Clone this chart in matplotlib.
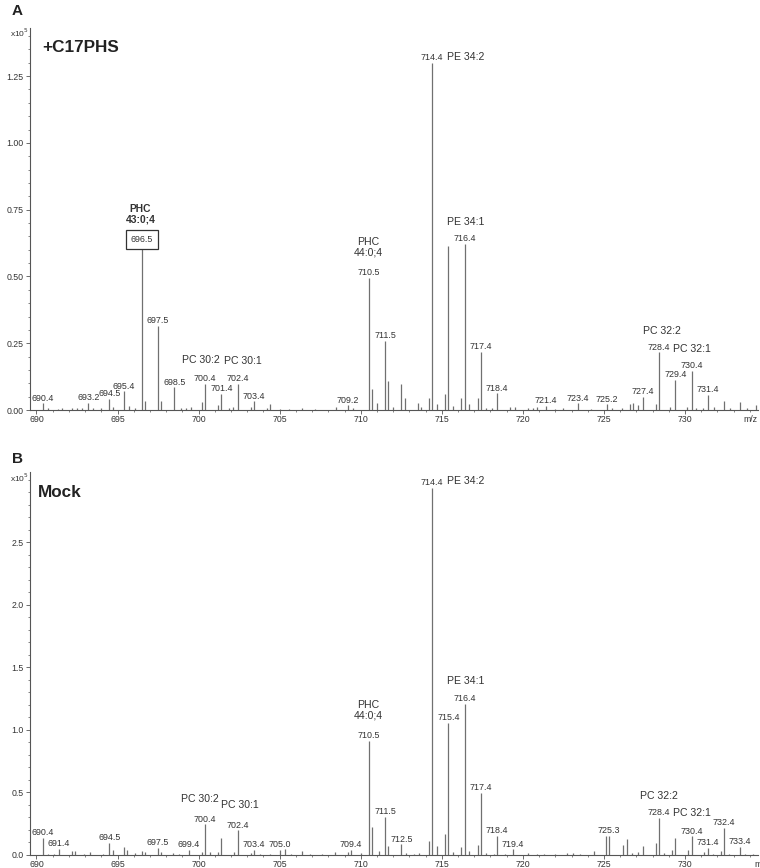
import numpy as np
import matplotlib.pyplot as plt
from matplotlib.ticker import MultipleLocator, FixedLocator, FormatStrFormatter

plt.rcParams['font.family'] = ['Liberation Sans', 'DejaVu Sans']

# ---- panel A: +C17PHS (intensity x10^5) ----
a_lab_mz = [690.4, 693.2, 694.5, 695.4, 696.5, 697.5, 698.5, 700.4, 701.4, 702.4,
            703.4, 709.2, 710.5, 711.5, 714.4, 716.4, 717.4, 718.4, 721.4, 723.4,
            725.2, 727.4, 728.4, 729.4, 730.4, 731.4]
a_lab_int = [0.025, 0.028, 0.041, 0.070, 0.607, 0.315, 0.085, 0.098, 0.060, 0.098,
             0.032, 0.017, 0.494, 0.258, 1.300, 0.621, 0.218, 0.062, 0.015, 0.025,
             0.021, 0.049, 0.216, 0.112, 0.146, 0.057]
a_small_mz = [690.7, 691.3, 691.6, 692.2, 692.5, 692.8, 693.5, 694.0, 694.7, 695.7,
              696.1, 696.7, 697.7, 698.9, 699.2, 699.5, 700.2, 701.2, 701.9, 702.1,
              703.2, 704.2, 704.4, 705.0, 705.6, 706.4, 707.2, 708.5, 709.5, 710.7,
              711.0, 711.7, 712.0, 712.5, 712.7, 713.5, 713.7, 714.2, 714.7, 715.2,
              715.4, 715.7, 716.2, 716.7, 717.2, 717.7, 718.1, 719.2, 719.5, 720.3,
              720.6, 720.9, 722.0, 722.5, 724.2, 725.5, 726.1, 726.6, 726.8, 727.1,
              728.2, 729.1, 730.1, 730.7, 731.1, 731.8, 732.4, 732.8, 733.4, 733.8,
              734.4]
a_small_int = [0.006, 0.005, 0.006, 0.008, 0.007, 0.008, 0.006, 0.007, 0.012, 0.015,
               0.008, 0.035, 0.033, 0.008, 0.006, 0.013, 0.031, 0.020, 0.008, 0.011,
               0.013, 0.008, 0.022, 0.005, 0.004, 0.008, 0.004, 0.013, 0.006, 0.078,
               0.028, 0.108, 0.012, 0.098, 0.046, 0.027, 0.010, 0.045, 0.022, 0.060,
               0.614, 0.015, 0.045, 0.022, 0.045, 0.008, 0.006, 0.010, 0.012, 0.006,
               0.008, 0.010, 0.005, 0.006, 0.005, 0.008, 0.006, 0.022, 0.025, 0.017,
               0.022, 0.012, 0.010, 0.008, 0.007, 0.010, 0.035, 0.008, 0.030, 0.006,
               0.019]
a_names = ["PHC\n43:0;4", "PC 30:2", "PC 30:1", "PHC\n44:0;4", "PE 34:2", "PE 34:1",
           "PC 32:2", "PC 32:1"]
a_name_mz = [696.5, 700.4, 702.4, 710.5, 714.4, 716.4, 728.4, 730.4]
a_yticks = [0.0, 0.25, 0.50, 0.75, 1.00, 1.25]

# ---- panel B: Mock ----
b_lab_mz = [690.4, 691.4, 694.5, 697.5, 699.4, 700.4, 702.4, 703.4, 705.0, 709.4,
            710.5, 711.5, 712.5, 714.4, 715.4, 716.4, 717.4, 718.4, 719.4, 725.3,
            728.4, 730.4, 731.4, 732.4, 733.4]
b_lab_int = [0.134, 0.048, 0.097, 0.054, 0.040, 0.245, 0.196, 0.040, 0.043, 0.043,
             0.912, 0.305, 0.085, 2.930, 1.056, 1.210, 0.497, 0.155, 0.044, 0.155,
             0.296, 0.148, 0.054, 0.218, 0.067]
b_small_mz = [690.7, 691.1, 692.2, 692.4, 692.9, 693.3, 694.1, 694.7, 695.4, 695.6,
              696.1, 696.5, 696.7, 697.7, 698.4, 698.8, 700.2, 700.7, 701.2, 701.4,
              702.2, 703.2, 703.8, 704.4, 705.3, 705.7, 706.4, 706.9, 707.6, 708.4,
              709.2, 710.0, 710.7, 711.1, 711.7, 712.8, 713.3, 713.6, 714.2, 714.7,
              715.2, 715.7, 716.2, 716.7, 717.2, 717.7, 718.2, 718.9, 720.3, 720.9,
              721.3, 722.0, 722.7, 723.1, 723.5, 724.4, 725.15, 726.2, 726.4, 726.7,
              727.1, 727.4, 728.2, 728.7, 729.2, 729.4, 730.2, 731.2, 731.7, 732.2,
              732.7, 733.7, 734.2]
b_small_int = [0.010, 0.008, 0.030, 0.028, 0.010, 0.020, 0.010, 0.043, 0.067, 0.043,
               0.012, 0.035, 0.025, 0.020, 0.015, 0.010, 0.027, 0.020, 0.027, 0.134,
               0.020, 0.012, 0.008, 0.010, 0.046, 0.006, 0.035, 0.008, 0.010, 0.025,
               0.025, 0.012, 0.225, 0.030, 0.075, 0.012, 0.010, 0.012, 0.115, 0.070,
               0.165, 0.020, 0.065, 0.030, 0.080, 0.012, 0.010, 0.008, 0.015, 0.008,
               0.010, 0.006, 0.012, 0.015, 0.010, 0.035, 0.150, 0.080, 0.124, 0.015,
               0.020, 0.070, 0.094, 0.012, 0.043, 0.134, 0.043, 0.020, 0.010, 0.030,
               0.010, 0.008, 0.010]
b_names = ["PC 30:2", "PC 30:1", "PHC\n44:0;4", "PE 34:2", "PE 34:1", "PC 32:2", "PC 32:1"]
b_name_mz = [700.4, 702.4, 710.5, 714.4, 716.4, 728.4, 730.4]
b_yticks = [0.0, 0.5, 1.0, 1.5, 2.0, 2.5]

x_ticks = [690, 695, 700, 705, 710, 715, 720, 725, 730]

LINE = '#707070'
TXT = '#333333'


def draw_panel(ax, lab_mz, lab_int, small_mz, small_int, names, name_mz,
               name_offsets, ymax, yticks, yminor, yfmt, boxed=None, bold_names=()):
    ax.vlines(small_mz, 0, small_int, color=LINE, lw=0.9)
    ax.vlines(lab_mz, 0, lab_int, color=LINE, lw=0.9)

    for mz, h in zip(lab_mz, lab_int):
        if mz == boxed:
            ax.annotate(f"{mz:.1f}", (mz, h), xytext=(0, 6), textcoords='offset points',
                        ha='center', va='center', fontsize=6.4, color=TXT,
                        bbox=dict(boxstyle='square,pad=0.55', fc='white', ec='#333333', lw=0.9))
        else:
            ax.annotate(f"{mz:.1f}", (mz, h), xytext=(0, 3.8), textcoords='offset points',
                        ha='center', va='center', fontsize=6.4, color=TXT)

    heights = dict(zip(lab_mz, lab_int))
    for name, mz, (dx, dy, ha) in zip(names, name_mz, name_offsets):
        bold = name in bold_names
        ax.annotate(name, (mz, heights[mz]), xytext=(dx, dy), textcoords='offset points',
                    ha=ha, va='center', fontsize=7.6 if not bold else 7.4,
                    fontweight='bold' if bold else 'normal', color=TXT,
                    linespacing=1.05, multialignment='center')

    ax.set_xlim(689.6, 734.5)
    ax.set_ylim(0, ymax)
    ax.set_xticks(x_ticks)
    ax.xaxis.set_minor_locator(MultipleLocator(1))
    ax.yaxis.set_major_locator(FixedLocator(yticks))
    ax.yaxis.set_minor_locator(MultipleLocator(yminor))
    ax.yaxis.set_major_formatter(FormatStrFormatter(yfmt))
    for s in ['top', 'right']:
        ax.spines[s].set_visible(False)
    for s in ['left', 'bottom']:
        ax.spines[s].set_color('#555555')
        ax.spines[s].set_linewidth(0.8)
    ax.tick_params(which='major', length=3, width=0.6, color='#555555',
                   labelsize=6.3, labelcolor=TXT, pad=1.5)
    ax.tick_params(axis='x', which='major', pad=0.6)
    ax.tick_params(which='minor', length=1.6, width=0.5, color='#555555')


fig = plt.figure(figsize=(7.6, 8.68), dpi=100)
ax_a = fig.add_axes([30 / 760, 1 - 410 / 868, 728 / 760, 382 / 868])
ax_b = fig.add_axes([30 / 760, 1 - 855 / 868, 728 / 760, 383 / 868])

a_offsets = [(-1, 24.5, 'center'), (-3, 16.8, 'center'), (3.5, 16.5, 'center'),
             (-0.5, 22, 'center'), (11, 4.3, 'left'), (1, 16, 'center'),
             (2, 15.3, 'center'), (0, 16, 'center')]
draw_panel(ax_a, a_lab_mz, a_lab_int, a_small_mz, a_small_int, a_names, a_name_mz,
           a_offsets, 1.43, a_yticks, 0.05, '%.2f', boxed=696.5,
           bold_names=("PHC\n43:0;4",))

b_offsets = [(-4, 18, 'center'), (2, 18, 'center'), (-0.5, 22, 'center'),
             (11, 5, 'left'), (1, 16, 'center'), (0, 16, 'center'), (0, 17, 'center')]
draw_panel(ax_b, b_lab_mz, b_lab_int, b_small_mz, b_small_int, b_names, b_name_mz,
           b_offsets, 3.06, b_yticks, 0.1, '%.1f')

ax_a.text(0.99, -0.012, 'm/z', transform=ax_a.transAxes, ha='center', va='top',
          fontsize=6.3, color=TXT)
ax_b.text(1.005, -0.012, 'm/z', transform=ax_b.transAxes, ha='center', va='top',
          fontsize=6.3, color=TXT)

fig.text(12 / 760, 1 - 11 / 868, 'A', fontsize=11, fontweight='bold', va='center', color='#222222')
fig.text(12 / 760, 1 - 459 / 868, 'B', fontsize=11, fontweight='bold', va='center', color='#222222')
fig.text(42 / 760, 1 - 48 / 868, '+C17PHS', fontsize=12.3, fontweight='bold', va='center', color='#222222')
fig.text(38 / 760, 1 - 493 / 868, 'Mock', fontsize=12.3, fontweight='bold', va='center', color='#222222')
fig.text(29 / 760, 1 - 33 / 868, r'x10$^5$', fontsize=6, ha='right', va='center', color=TXT)
fig.text(29 / 760, 1 - 478 / 868, r'x10$^5$', fontsize=6, ha='right', va='center', color=TXT)

fig.savefig('out.png', dpi=100)
